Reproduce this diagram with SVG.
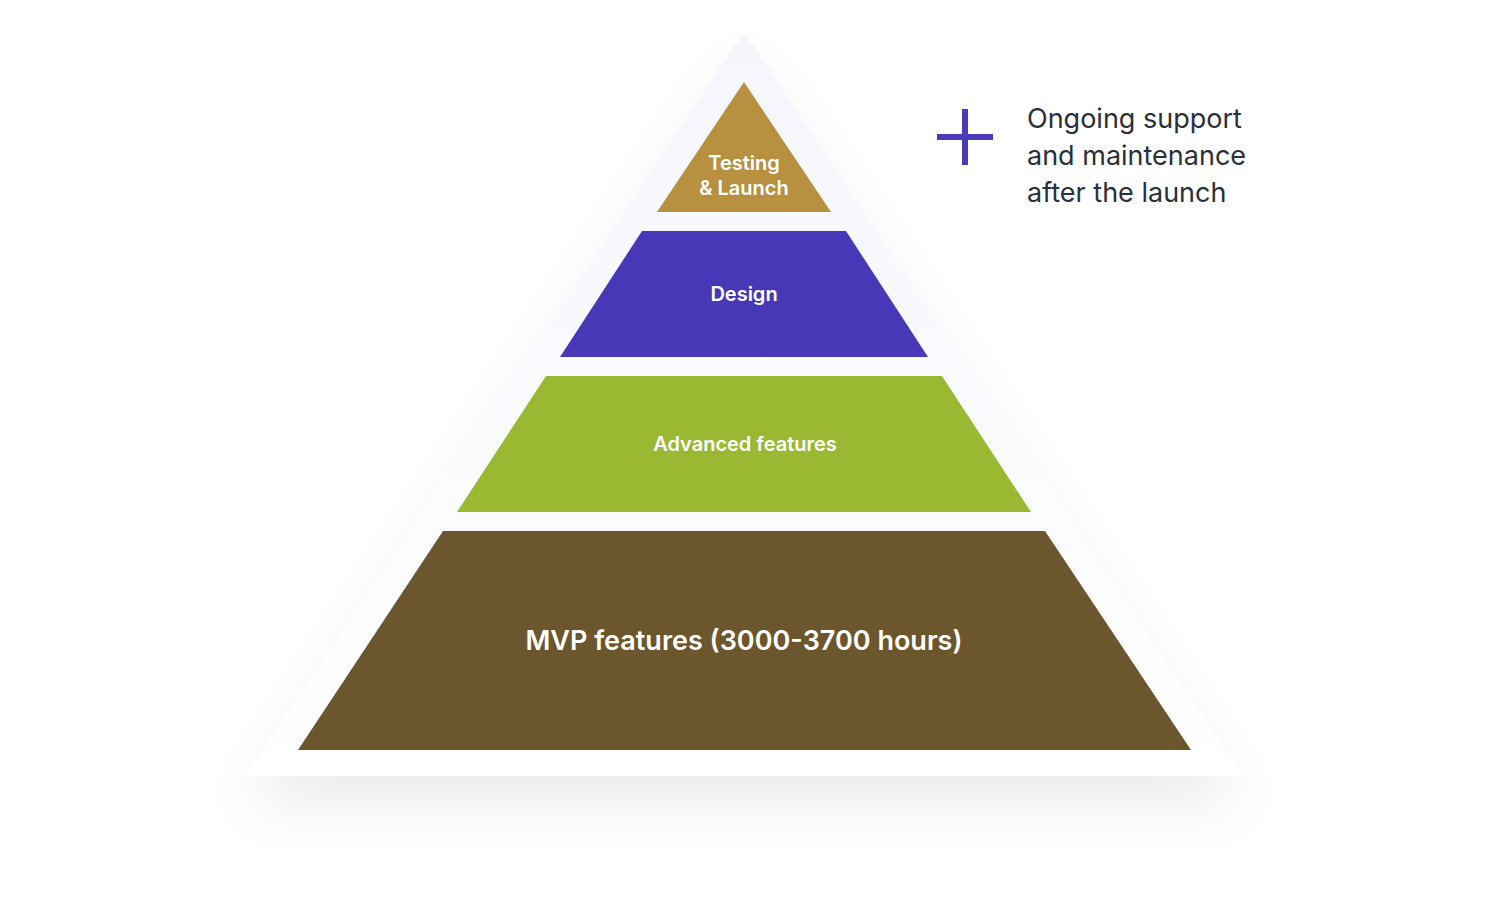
<svg xmlns="http://www.w3.org/2000/svg" width="1488" height="924" viewBox="0 0 1488 924">
<defs>
<filter id="sh" x="-20%" y="-20%" width="140%" height="150%">
<feDropShadow dx="0" dy="30" stdDeviation="25" flood-color="#000" flood-opacity="0.07"/>
</filter>
<linearGradient id="bg" x1="0" y1="0" x2="0" y2="1">
<stop offset="0" stop-color="#f4f6fb"/><stop offset="1" stop-color="#ffffff"/>
</linearGradient>
</defs>
<style>
.lbl{font-family:Inter,"Noto Sans",sans-serif;font-weight:600;fill:#fff;text-anchor:middle}
.side{font-family:Inter,"Noto Sans",sans-serif;font-size:27px;fill:#2a2f3a}
</style>
<rect width="1488" height="924" fill="#fff"/>
<g id="outer"><polygon points="744,32 1242,776 246,776" fill="url(#bg)" filter="url(#sh)"/></g>
<g id="testing">
<polygon points="744,82 831,212 657,212" fill="#b79140"/>
<text class="lbl" x="744" y="170" font-size="20">Testing</text>
<text class="lbl" x="744" y="195" font-size="20">&amp; Launch</text>
</g>
<g id="design">
<polygon points="642,231 846,231 928,357 560,357" fill="#4838b8"/>
<text class="lbl" x="744" y="301" font-size="20">Design</text>
</g>
<g id="advanced">
<polygon points="546,376 942,376 1031,512 457,512" fill="#9ab832"/>
<text class="lbl" x="745" y="451" font-size="20">Advanced features</text>
</g>
<g id="mvp">
<polygon points="443,531 1045,531 1191,750 298,750" fill="#6b562e"/>
<text class="lbl" x="744" y="650" font-size="27">MVP features (3000-3700 hours)</text>
</g>
<g id="plus">
<path d="M965,109V165M937,137H993" stroke="#4a3bb8" stroke-width="6" fill="none"/>
</g>
<g id="note">
<text class="side" x="1027" y="128">Ongoing support</text>
<text class="side" x="1027" y="165">and maintenance</text>
<text class="side" x="1027" y="202">after the launch</text>
</g>
<g id="connectors"/>
</svg>
